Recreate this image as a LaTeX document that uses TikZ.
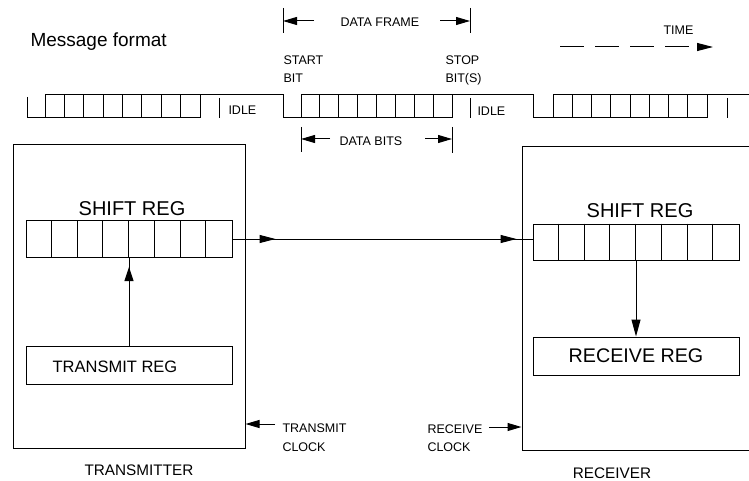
\documentclass[tikz,border=0pt]{standalone}
\usepackage{fontspec}
\setmainfont{Liberation Sans}
\usetikzlibrary{arrows.meta,decorations.markings}
\begin{document}
\begin{tikzpicture}[x=1pt,y=-1pt,line width=1pt,
  tip/.style={-{Triangle[length=14pt,width=8pt]}},
  box/.style={draw,rectangle,inner sep=0pt},
  sm/.style={inner sep=0pt,font=\fontsize{12.5}{14}\selectfont},
  mid/.style={inner sep=0pt,font=\fontsize{15.3}{18}\selectfont},
  big/.style={inner sep=0pt,font=\fontsize{20}{24}\selectfont},
  marr/.style={postaction={decorate},decoration={markings,
     mark=at position #1 with {\arrow{Triangle[length=14pt,width=9pt]}}}},
  marr2/.style 2 args={postaction={decorate},decoration={markings,
     mark=at position #1 with {\arrow{Triangle[length=16pt,width=8pt]}},
     mark=at position #2 with {\arrow{Triangle[length=16pt,width=8pt]}}}}]
\useasboundingbox (0,0) rectangle (749,481);
\clip (0,0) rectangle (749,481);

% ---------- message format ----------
\node[inner sep=0pt,font=\fontsize{19}{22}\selectfont,anchor=base west] (mf) at (30,47) {Message format};

\def\T{95}\def\B{118}
\draw (27,97) -- (27,\B) -- (45,\B) -- (45,\T) -- (283,\T) -- (283,\B) -- (301,\B) -- (301,\T)
      -- (533,\T) -- (533,\B) -- (553,\B) -- (553,\T) -- (749,\T);
\draw (45,\B) -- (200,\B);
\foreach \i in {1,...,8} \draw ({45+\i*19.375},\T) -- ++(0,23);
\draw (301,\B) -- (452,\B);
\foreach \i in {1,...,8} \draw ({301+\i*18.875},\T) -- ++(0,23);
\draw (553,\B) -- (707,\B);
\foreach \i in {1,...,8} \draw ({553+\i*19.25},\T) -- ++(0,23);
\draw (219,98) -- (219,\B);
\draw (470,98) -- (470,\B);
\draw (727,98) -- (727,\B);
\node[sm,anchor=base west] (idle1) at (228,115) {IDLE};
\node[sm,anchor=base west] (idle2) at (477,116) {IDLE};

% data frame
\draw (283,8) -- (283,33);
\draw (470,8) -- (470,33);
\coordinate (dfl) at (283,21);
\coordinate (dfr) at (470,21);
\coordinate (dfl0) at (314,21);
\coordinate (dfr0) at (440,21);
\draw[tip] (dfl0) -- (dfl);
\draw[tip] (dfr0) -- (dfr);
\node[sm,anchor=base west] (df) at (340,27) {DATA FRAME};

% start / stop
\node[sm,anchor=base west] (st1) at (283,65) {START};
\node[sm,anchor=base west] (st2) at (283,83) {BIT};
\node[sm,anchor=base west] (sp1) at (445,65) {STOP};
\node[sm,anchor=base west] (sp2) at (445,83) {BIT(S)};

% data bits
\draw (301,127) -- (301,152);
\draw (452,127) -- (452,153);
\coordinate (dbl) at (301,139);
\coordinate (dbr) at (452,139);
\coordinate (dbl0) at (330,139);
\coordinate (dbr0) at (425,139);
\draw[tip] (dbl0) -- (dbl);
\draw[tip] (dbr0) -- (dbr);
\node[sm,anchor=base west] (db) at (339,146) {DATA BITS};

% time
\node[sm,anchor=base west] (time) at (663,35) {TIME};
\coordinate (t0) at (560,47);
\coordinate (t1) at (713,47);
\draw[-{Triangle[length=16pt,width=8pt]},dash pattern=on 24pt off 11pt] (t0) -- (t1);

% ---------- transmitter ----------
\node[box,minimum width=232pt,minimum height=303pt] (tx) at (129,296.5) {};
\node[big,anchor=base] (tsrl) at (132,215) {SHIFT REG};
\node[box,minimum width=206pt,minimum height=37pt] (tsr) at (129,239) {};
\foreach \i in {1,...,7}
  \draw ([xshift=\i*25.75pt]tsr.north west) -- ([xshift=\i*25.75pt]tsr.south west);
\node[box,minimum width=206pt,minimum height=38pt] (treg) at (129,365) {};
\node[inner sep=0pt,font=\fontsize{16.5}{20}\selectfont,anchor=base] (tregl) at (115,372) {TRANSMIT REG};
\draw[marr=-9pt] (treg.north) -- (tsr.south);
\node[mid,anchor=base] (txl) at (139,475) {TRANSMITTER};

\coordinate (tca) at (275,424);
\draw[tip] (tca) -- (tca -| tx.east);
\node[sm,anchor=base west] (tc1) at (282,432) {TRANSMIT};
\node[sm,anchor=base west] (tc2) at (282,451) {CLOCK};

% ---------- receiver ----------
\node[box,minimum width=238pt,minimum height=303pt] (rx) at (641,298.5) {};
\node[big,anchor=base] (rsrl) at (640,218) {SHIFT REG};
\node[box,minimum width=206pt,minimum height=36pt] (rsr) at (636,242) {};
\foreach \i in {1,...,7}
  \draw ([xshift=\i*25.75pt]rsr.north west) -- ([xshift=\i*25.75pt]rsr.south west);
\node[box,minimum width=206pt,minimum height=38pt,font=\fontsize{19.7}{24}\selectfont] (rreg) at (636,356) {RECEIVE REG};
\draw[-{Triangle[length=17pt,width=9pt]}] (rsr.south) -- (rreg.north);
\node[mid,anchor=base] (rxl) at (612,478) {RECEIVER};

\coordinate (rca) at (489,427);
\draw[tip] (rca) -- (rca -| rx.west);
\node[sm,anchor=base west] (rc1) at (427,433) {RECEIVE};
\node[sm,anchor=base west] (rc2) at (427,451) {CLOCK};

% link
\draw[marr2={43pt}{-16pt}] (tsr.east) -- (tsr.east -| rsr.west);
\end{tikzpicture}
\end{document}
